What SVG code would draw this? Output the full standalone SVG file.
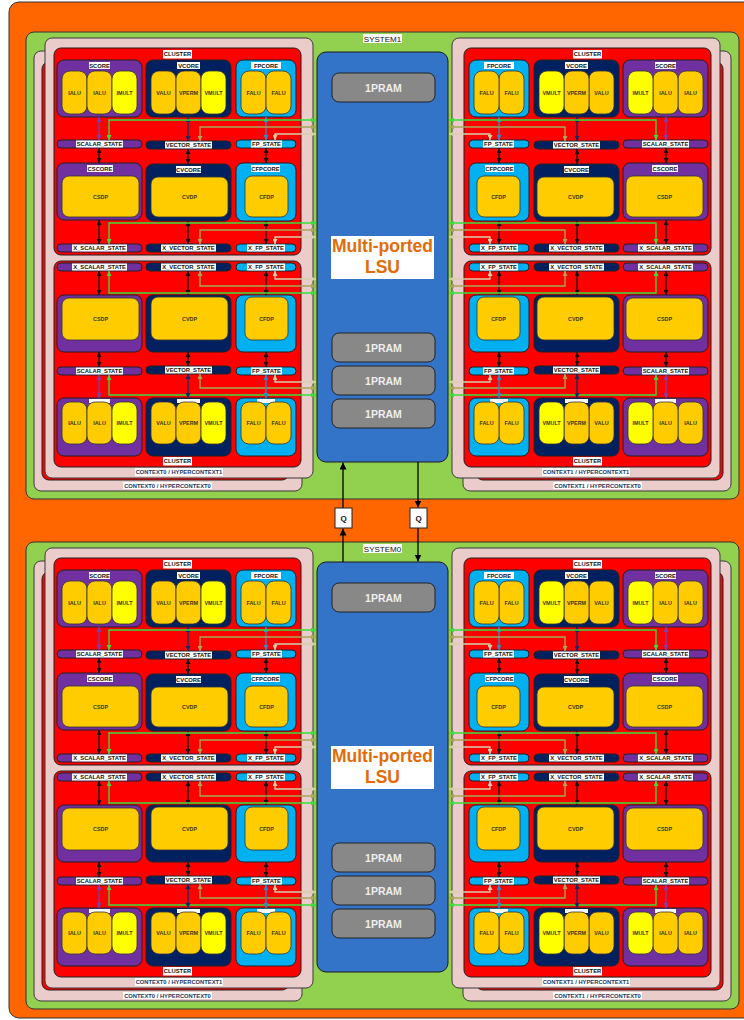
<svg xmlns="http://www.w3.org/2000/svg" xmlns:xlink="http://www.w3.org/1999/xlink" width="744" height="1020" viewBox="0 0 744 1020">
<style>
.ctx{fill:#EACCCA;stroke:#3a3a3a;stroke-width:1}
.cl{fill:#FF0000;stroke:#222;stroke-width:1}
.sc{fill:#7030A0;stroke:#222;stroke-width:1}
.vc{fill:#002060;stroke:#222;stroke-width:1}
.fc{fill:#00B0F0;stroke:#222;stroke-width:1}
.u{fill:#FFCC00;stroke:#333;stroke-width:0.8}
.m{fill:#FFFF00;stroke:#333;stroke-width:0.8}
.lb{fill:#FFFFFF}
.sys{fill:#92D050;stroke:#333;stroke-width:1}
.pr{fill:#888888;stroke:#222;stroke-width:1}
.t{font-family:"Liberation Sans",Arial,sans-serif;font-weight:bold;font-size:5.8px;text-anchor:middle;fill:#111}
.tu{font-size:5.4px;fill:#3a3a10}
.tc{fill:#1F3864}
.cg{fill:none;stroke:#38E038;stroke-width:1.3;marker-start:url(#mG);marker-end:url(#mG)}
.co{fill:none;stroke:#A8A858;stroke-width:1.3;marker-start:url(#mO);marker-end:url(#mO)}
.cw{fill:none;stroke:#D6D0AA;stroke-width:1.3;marker-start:url(#mW);marker-end:url(#mW)}
.ap{stroke:#7B3FB0;stroke-width:1.3;marker-start:url(#mP);marker-end:url(#mP)}
.an{stroke:#0F2A66;stroke-width:1.3;marker-start:url(#mN);marker-end:url(#mN)}
.ab{stroke:#2E8BCB;stroke-width:1.3;marker-start:url(#mB);marker-end:url(#mB)}
.ak{stroke:#111;stroke-width:1.3;marker-start:url(#mK);marker-end:url(#mK)}
.aq{stroke:#000;stroke-width:1.3;marker-end:url(#mQ)}
</style>
<defs>
<marker id="mG" viewBox="0 0 10 10" refX="10" refY="5" markerWidth="5" markerHeight="5" markerUnits="userSpaceOnUse" orient="auto-start-reverse"><path d="M0,0L10,5L0,10z" fill="#38E038"/></marker>
<marker id="mO" viewBox="0 0 10 10" refX="10" refY="5" markerWidth="5" markerHeight="5" markerUnits="userSpaceOnUse" orient="auto-start-reverse"><path d="M0,0L10,5L0,10z" fill="#A8A858"/></marker>
<marker id="mW" viewBox="0 0 10 10" refX="10" refY="5" markerWidth="5" markerHeight="5" markerUnits="userSpaceOnUse" orient="auto-start-reverse"><path d="M0,0L10,5L0,10z" fill="#D6D0AA"/></marker>
<marker id="mP" viewBox="0 0 10 10" refX="10" refY="5" markerWidth="5" markerHeight="5" markerUnits="userSpaceOnUse" orient="auto-start-reverse"><path d="M0,0L10,5L0,10z" fill="#7B3FB0"/></marker>
<marker id="mN" viewBox="0 0 10 10" refX="10" refY="5" markerWidth="5" markerHeight="5" markerUnits="userSpaceOnUse" orient="auto-start-reverse"><path d="M0,0L10,5L0,10z" fill="#0F2A66"/></marker>
<marker id="mB" viewBox="0 0 10 10" refX="10" refY="5" markerWidth="5" markerHeight="5" markerUnits="userSpaceOnUse" orient="auto-start-reverse"><path d="M0,0L10,5L0,10z" fill="#2E8BCB"/></marker>
<marker id="mK" viewBox="0 0 10 10" refX="10" refY="5" markerWidth="5" markerHeight="5" markerUnits="userSpaceOnUse" orient="auto-start-reverse"><path d="M0,0L10,5L0,10z" fill="#111"/></marker>
<marker id="mQ" viewBox="0 0 10 10" refX="10" refY="5" markerWidth="7" markerHeight="7" markerUnits="userSpaceOnUse" orient="auto"><path d="M0,0L10,5L0,10z" fill="#000"/></marker>

<!-- left context stack (mirrored for the right side) -->
<g id="ctxL">
<g id="ctx-back">
<rect class="ctx" x="34" y="51" width="268" height="440" rx="7"/>
<rect class="cl" x="42" y="62" width="247" height="418" rx="7"/>
<rect class="lb" x="123" y="482" width="89" height="7"/>
</g>
<g id="ctx-front">
<rect class="ctx" x="45" y="38" width="268" height="440" rx="7"/>
<rect class="lb" x="135" y="468" width="88" height="8"/>
</g>
<g id="cluster-top">
<rect class="cl" x="54" y="48" width="247" height="207" rx="7"/>
<rect class="lb" x="163" y="50" width="29" height="8.5"/>
<g id="score-t"><rect class="sc" x="57" y="60" width="85" height="57" rx="7"/><rect class="lb" x="89" y="62" width="21" height="7"/>
<rect class="u" x="62" y="71" width="25" height="43" rx="8"/><rect class="u" x="87" y="71" width="25" height="43" rx="8"/><rect class="m" x="112" y="71" width="25" height="43" rx="8"/></g>
<g id="vcore-t"><rect class="vc" x="146" y="60" width="85" height="57" rx="7"/><rect class="lb" x="177" y="62" width="23" height="7"/>
<rect class="u" x="151" y="71" width="25" height="43" rx="8"/><rect class="u" x="176" y="71" width="25" height="43" rx="8"/><rect class="m" x="201" y="71" width="25" height="43" rx="8"/></g>
<g id="fpcore-t"><rect class="fc" x="236" y="60" width="60" height="57" rx="7"/><rect class="lb" x="251" y="62" width="30" height="7"/>
<rect class="u" x="241" y="71" width="25" height="43" rx="8"/><rect class="u" x="266" y="71" width="25" height="43" rx="8"/></g>
<g id="states-t">
<rect class="sc" x="57" y="140" width="85" height="8" rx="4"/><rect class="lb" x="76" y="140.5" width="47" height="7"/>
<rect class="vc" x="146" y="141" width="85" height="8" rx="4"/><rect class="lb" x="165" y="141.5" width="47" height="7"/>
<rect class="fc" x="236" y="140" width="60" height="8" rx="4"/><rect class="lb" x="251" y="140.5" width="31" height="7"/>
</g>
<g id="ccores-t">
<rect class="sc" x="57" y="163" width="85" height="57" rx="7"/><rect class="lb" x="87" y="165" width="26" height="7"/><rect class="u" x="62" y="176" width="77" height="41" rx="7"/>
<rect class="vc" x="146" y="164" width="85" height="57" rx="7"/><rect class="lb" x="176" y="166" width="25" height="7"/><rect class="u" x="151" y="177" width="77" height="40" rx="7"/>
<rect class="fc" x="236" y="163" width="60" height="58" rx="7"/><rect class="lb" x="251" y="165" width="29" height="7"/><rect class="u" x="245" y="176" width="43" height="41" rx="7"/>
</g>
<g id="xstates-t">
<rect class="sc" x="57" y="244" width="85" height="8" rx="4"/><rect class="lb" x="72" y="244.5" width="55" height="7"/>
<rect class="vc" x="146" y="244" width="85" height="8" rx="4"/><rect class="lb" x="161" y="244.5" width="55" height="7"/>
<rect class="fc" x="236" y="244" width="60" height="8" rx="4"/><rect class="lb" x="247" y="244.5" width="38" height="7"/>
</g>
</g>
<g id="cluster-bottom">
<rect class="cl" x="54" y="261" width="247" height="206" rx="7"/>
<g id="xstates-b">
<rect class="sc" x="57" y="263" width="85" height="8" rx="4"/><rect class="lb" x="72" y="263.5" width="55" height="7"/>
<rect class="vc" x="146" y="263" width="85" height="8" rx="4"/><rect class="lb" x="161" y="263.5" width="55" height="7"/>
<rect class="fc" x="236" y="263" width="60" height="8" rx="4"/><rect class="lb" x="247" y="263.5" width="38" height="7"/>
</g>
<g id="ccores-b">
<rect class="sc" x="57" y="295" width="85" height="57" rx="7"/><rect class="u" x="62" y="298" width="77" height="42" rx="7"/>
<rect class="vc" x="146" y="295" width="85" height="57" rx="7"/><rect class="u" x="151" y="297" width="77" height="43" rx="7"/>
<rect class="fc" x="236" y="295" width="60" height="57" rx="7"/><rect class="u" x="245" y="297" width="43" height="43" rx="7"/>
</g>
<g id="states-b">
<rect class="sc" x="57" y="367" width="85" height="8" rx="4"/><rect class="lb" x="76" y="367.5" width="47" height="7"/>
<rect class="vc" x="146" y="366" width="85" height="8" rx="4"/><rect class="lb" x="165" y="366.5" width="47" height="7"/>
<rect class="fc" x="236" y="367" width="60" height="8" rx="4"/><rect class="lb" x="251" y="367.5" width="31" height="7"/>
</g>
<g id="score-b"><rect class="sc" x="57" y="398" width="85" height="58" rx="7"/><rect class="lb" x="89" y="399" width="21" height="4"/>
<rect class="u" x="62" y="402" width="25" height="42" rx="8"/><rect class="u" x="87" y="402" width="25" height="42" rx="8"/><rect class="m" x="112" y="402" width="25" height="42" rx="8"/></g>
<g id="vcore-b"><rect class="vc" x="146" y="398" width="85" height="58" rx="7"/><rect class="lb" x="177" y="399" width="23" height="4"/>
<rect class="u" x="151" y="402" width="25" height="42" rx="8"/><rect class="u" x="176" y="402" width="25" height="42" rx="8"/><rect class="m" x="201" y="402" width="25" height="42" rx="8"/></g>
<g id="fpcore-b"><rect class="fc" x="236" y="398" width="60" height="58" rx="7"/><rect class="lb" x="257" y="399" width="18" height="4"/>
<rect class="u" x="241" y="402" width="25" height="42" rx="8"/><rect class="u" x="266" y="402" width="25" height="42" rx="8"/></g>
<rect class="lb" x="163" y="457" width="29" height="8.5"/>
</g>
</g>

<g id="connL">
<line class="ap" x1="99" y1="117" x2="99" y2="140"/>
<line class="an" x1="188" y1="117" x2="188" y2="141"/>
<line class="ab" x1="266" y1="117" x2="266" y2="140"/>
<line class="ak" x1="99" y1="148" x2="99" y2="163"/>
<line class="ak" x1="188" y1="149" x2="188" y2="164"/>
<line class="ak" x1="266" y1="148" x2="266" y2="163"/>
<line class="ak" x1="99" y1="220" x2="99" y2="244"/>
<line class="ak" x1="188" y1="221" x2="188" y2="244"/>
<line class="ak" x1="266" y1="221" x2="266" y2="244"/>
<path class="cg" d="M316,120H109V140"/>
<path class="co" d="M316,127H200V141"/>
<path class="cw" d="M316,134H275V140"/>
<path class="cg" d="M316,223H109V244"/>
<path class="co" d="M316,230H200V244"/>
<path class="cw" d="M316,237H275V244"/>
<line class="ak" x1="99" y1="271" x2="99" y2="295"/>
<line class="ak" x1="188" y1="271" x2="188" y2="295"/>
<line class="ak" x1="266" y1="271" x2="266" y2="295"/>
<path class="cw" d="M316,279H275V271"/>
<path class="co" d="M316,286H200V271"/>
<path class="cg" d="M316,293H109V271"/>
<line class="ak" x1="99" y1="352" x2="99" y2="367"/>
<line class="ak" x1="188" y1="352" x2="188" y2="366"/>
<line class="ak" x1="266" y1="352" x2="266" y2="367"/>
<path class="cw" d="M316,382H275V375"/>
<path class="co" d="M316,388H200V374"/>
<path class="cg" d="M316,395H109V375"/>
<line class="ap" x1="99" y1="375" x2="99" y2="398"/>
<line class="an" x1="188" y1="374" x2="188" y2="398"/>
<line class="ab" x1="266" y1="375" x2="266" y2="398"/>
</g>

<g id="sysBody">
<rect class="sys" x="26" y="32" width="713" height="467" rx="8"/>
<use href="#ctxL"/>
<use href="#ctxL" transform="matrix(-1 0 0 1 765 0)"/>
<g id="lsu">
<rect x="317" y="52" width="131" height="410" rx="9" fill="#3374C8" stroke="#1a1a1a" stroke-width="1"/>
<rect class="pr" x="332" y="73" width="103" height="29" rx="7"/>
<rect class="pr" x="332" y="333" width="103" height="29" rx="7"/>
<rect class="pr" x="332" y="366" width="103" height="29" rx="7"/>
<rect class="pr" x="332" y="399" width="103" height="29" rx="7"/>
<rect x="331" y="236" width="103" height="43" fill="#FFFFFF"/>
<g font-family="'Liberation Sans',Arial,sans-serif" font-weight="bold" text-anchor="middle">
<text x="383.5" y="91.5" font-size="10.5" fill="#EEEEEE">1PRAM</text>
<text x="383.5" y="351.5" font-size="10.5" fill="#EEEEEE">1PRAM</text>
<text x="383.5" y="384.5" font-size="10.5" fill="#EEEEEE">1PRAM</text>
<text x="383.5" y="417.5" font-size="10.5" fill="#EEEEEE">1PRAM</text>
<text x="382.5" y="252" font-size="17.5" fill="#E36C09">Multi-ported</text>
<text x="382.5" y="273" font-size="17.5" fill="#E36C09">LSU</text>
</g>
</g>
<use href="#connL"/>
<use href="#connL" transform="matrix(-1 0 0 1 765 0)"/>
<g id="txtL" class="t">
<text x="177.5" y="56.3">CLUSTER</text>
<text x="99.5" y="67.6">SCORE</text>
<text x="188.5" y="67.6">VCORE</text>
<text x="266" y="67.6">FPCORE</text>
<g class="tu">
<text x="74.5" y="94.9">IALU</text><text x="99.5" y="94.9">IALU</text><text x="124.5" y="94.9">IMULT</text>
<text x="163.5" y="94.9">VALU</text><text x="188.5" y="94.9">VPERM</text><text x="213.5" y="94.9">VMULT</text>
<text x="253.5" y="94.9">FALU</text><text x="278.5" y="94.9">FALU</text>
<text x="100.5" y="198.5">CSDP</text><text x="189.5" y="199">CVDP</text><text x="266.5" y="198.5">CFDP</text>
<text x="100.5" y="321">CSDP</text><text x="189.5" y="320.5">CVDP</text><text x="266.5" y="320.5">CFDP</text>
<text x="74.5" y="425">IALU</text><text x="99.5" y="425">IALU</text><text x="124.5" y="425">IMULT</text>
<text x="163.5" y="425">VALU</text><text x="188.5" y="425">VPERM</text><text x="213.5" y="425">VMULT</text>
<text x="253.5" y="425">FALU</text><text x="278.5" y="425">FALU</text>
</g>
<text x="99.5" y="146.1">SCALAR_STATE</text>
<text x="188.5" y="147.1">VECTOR_STATE</text>
<text x="266.5" y="146.1">FP_STATE</text>
<text x="100" y="170.6">CSCORE</text>
<text x="188.5" y="171.6">CVCORE</text>
<text x="265.5" y="170.6">CFPCORE</text>
<text x="99.5" y="250.1">X_SCALAR_STATE</text>
<text x="188.5" y="250.1">X_VECTOR_STATE</text>
<text x="266" y="250.1">X_FP_STATE</text>
<text x="99.5" y="269.1">X_SCALAR_STATE</text>
<text x="188.5" y="269.1">X_VECTOR_STATE</text>
<text x="266" y="269.1">X_FP_STATE</text>
<text x="99.5" y="373.1">SCALAR_STATE</text>
<text x="188.5" y="372.1">VECTOR_STATE</text>
<text x="266.5" y="373.1">FP_STATE</text>
<text x="177.5" y="463.3">CLUSTER</text>
<text class="tc" x="179" y="474.1">CONTEXT0 / HYPERCONTEXT1</text>
<text class="tc" x="167.5" y="487.6">CONTEXT0 / HYPERCONTEXT0</text>
</g>
<g id="txtR" class="t">
<text x="587.5" y="56.3">CLUSTER</text>
<text x="665.5" y="67.6">SCORE</text>
<text x="576.5" y="67.6">VCORE</text>
<text x="499" y="67.6">FPCORE</text>
<g class="tu">
<text x="690.5" y="94.9">IALU</text><text x="665.5" y="94.9">IALU</text><text x="640.5" y="94.9">IMULT</text>
<text x="601.5" y="94.9">VALU</text><text x="576.5" y="94.9">VPERM</text><text x="551.5" y="94.9">VMULT</text>
<text x="511.5" y="94.9">FALU</text><text x="486.5" y="94.9">FALU</text>
<text x="664.5" y="198.5">CSDP</text><text x="575.5" y="199">CVDP</text><text x="498.5" y="198.5">CFDP</text>
<text x="664.5" y="321">CSDP</text><text x="575.5" y="320.5">CVDP</text><text x="498.5" y="320.5">CFDP</text>
<text x="690.5" y="425">IALU</text><text x="665.5" y="425">IALU</text><text x="640.5" y="425">IMULT</text>
<text x="601.5" y="425">VALU</text><text x="576.5" y="425">VPERM</text><text x="551.5" y="425">VMULT</text>
<text x="511.5" y="425">FALU</text><text x="486.5" y="425">FALU</text>
</g>
<text x="665.5" y="146.1">SCALAR_STATE</text>
<text x="576.5" y="147.1">VECTOR_STATE</text>
<text x="498.5" y="146.1">FP_STATE</text>
<text x="665" y="170.6">CSCORE</text>
<text x="576.5" y="171.6">CVCORE</text>
<text x="499.5" y="170.6">CFPCORE</text>
<text x="665.5" y="250.1">X_SCALAR_STATE</text>
<text x="576.5" y="250.1">X_VECTOR_STATE</text>
<text x="499" y="250.1">X_FP_STATE</text>
<text x="665.5" y="269.1">X_SCALAR_STATE</text>
<text x="576.5" y="269.1">X_VECTOR_STATE</text>
<text x="499" y="269.1">X_FP_STATE</text>
<text x="665.5" y="373.1">SCALAR_STATE</text>
<text x="576.5" y="372.1">VECTOR_STATE</text>
<text x="498.5" y="373.1">FP_STATE</text>
<text x="587.5" y="463.3">CLUSTER</text>
<text class="tc" x="586" y="474.1">CONTEXT1 / HYPERCONTEXT1</text>
<text class="tc" x="597.5" y="487.6">CONTEXT1 / HYPERCONTEXT0</text>
</g>
</g>
</defs>

<rect id="backdrop" x="9" y="2" width="760" height="1016" rx="10" fill="#FF6600" stroke="#333" stroke-width="1"/>

<g id="system1">
<use href="#sysBody"/>
<g id="system1-label">
<rect x="363" y="34" width="39" height="9" fill="#FFFFFF"/>
<text x="382.5" y="41.6" font-family="'Liberation Sans',Arial,sans-serif" font-size="8" text-anchor="middle" fill="#111">SYSTEM1</text>
</g>
</g>

<g id="system0" transform="translate(0,510)">
<use href="#sysBody"/>
<g id="system0-label">
<rect x="363" y="34" width="39" height="9" fill="#FFFFFF"/>
<text x="382.5" y="41.6" font-family="'Liberation Sans',Arial,sans-serif" font-size="8" text-anchor="middle" fill="#111">SYSTEM0</text>
</g>
</g>

<g id="connectors">
<line class="aq" x1="343" y1="562" x2="343" y2="528.5"/>
<line class="aq" x1="343" y1="508" x2="343" y2="462.5"/>
<line class="aq" x1="418" y1="462" x2="418" y2="507.5"/>
<line class="aq" x1="418" y1="528" x2="418" y2="561.5"/>
</g>
<g id="q-up">
<rect x="335" y="508" width="17" height="20" fill="#FFFFFF" stroke="#222" stroke-width="1"/>
<text x="343.5" y="521" font-family="'Liberation Sans',Arial,sans-serif" font-weight="bold" font-size="8" text-anchor="middle" fill="#111">Q</text>
</g>
<g id="q-down">
<rect x="410" y="508" width="17" height="20" fill="#FFFFFF" stroke="#222" stroke-width="1"/>
<text x="418.5" y="521" font-family="'Liberation Sans',Arial,sans-serif" font-weight="bold" font-size="8" text-anchor="middle" fill="#111">Q</text>
</g>
</svg>
